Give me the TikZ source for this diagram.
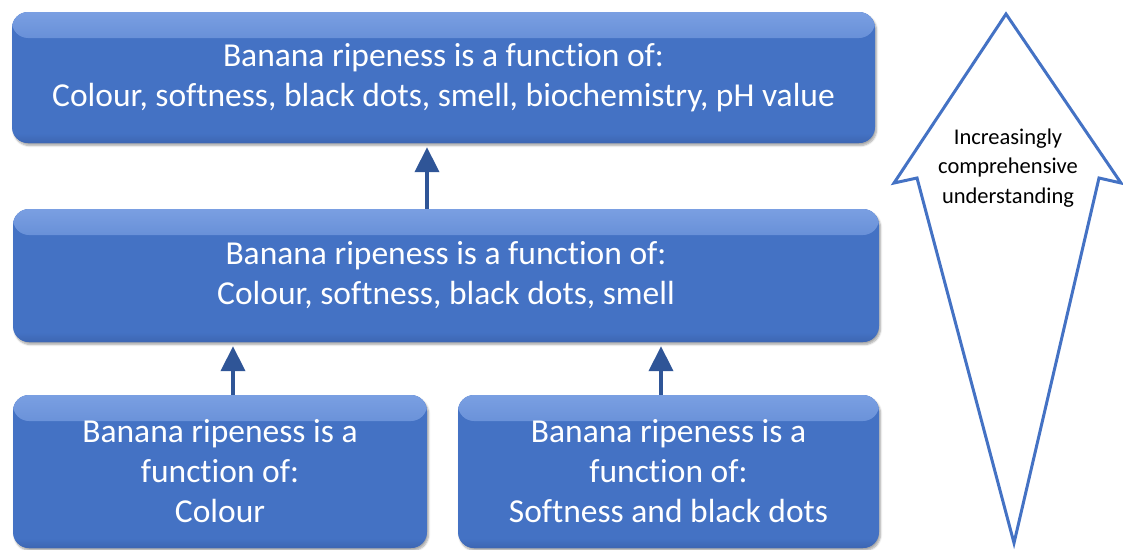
\documentclass[tikz,border=0pt]{standalone}
\usepackage{fontspec}
\setmainfont{Carlito}[Ligatures=NoCommon]
\usetikzlibrary{shadows.blur, arrows.meta}

\definecolor{boxblue}{HTML}{4472C4}
\definecolor{boxlight}{HTML}{7A9FE2}
\definecolor{boxdark}{HTML}{3D66B2}
\definecolor{linkblue}{HTML}{2F5597}

% soft highlight along the top edge of a card (path fills 25bp..75bp)
\pgfdeclareverticalshading{cardtop}{100bp}{%
  color(0bp)=(boxblue); color(25bp)=(boxblue); color(45bp)=(boxblue);
  color(75bp)=(boxlight); color(100bp)=(boxlight)}
% slight darkening along the bottom edge
\pgfdeclareverticalshading{cardbottom}{100bp}{%
  color(0bp)=(boxdark); color(25bp)=(boxdark); color(60bp)=(boxblue);
  color(100bp)=(boxblue)}

\begin{document}
\begin{tikzpicture}[x=1pt, y=-1pt,
  card/.style={
    rounded corners=16pt, fill=boxblue, draw=none, text=white,
    align=center, inner sep=0pt,
    font=\fontsize{33.5}{40}\selectfont,
    blur shadow={shadow xshift=1.5pt, shadow yshift=-2.5pt,
                 shadow blur steps=6, shadow opacity=35},
    path picture={
      \shade[shading=cardtop]
        (path picture bounding box.north west)
        rectangle ([yshift=-26pt]path picture bounding box.north east);
      \shade[shading=cardbottom]
        ([yshift=14pt]path picture bounding box.south west)
        rectangle (path picture bounding box.south east);
    }},
  link/.style={draw=linkblue, line width=4pt,
    -{Triangle[width=24pt, length=25pt]}, shorten >=4pt},
  outline/.style={draw=boxblue, line width=3pt, line join=miter},
  caption/.style={align=center, text=black,
    font=\fontsize{22.5}{29.5}\selectfont}
]
\useasboundingbox (0,0) rectangle (1123,549);

% levels of understanding
\node[card, minimum width=863pt, minimum height=131pt] (top) at (443.5,77.5)
  {Banana ripeness is a function of:\\Colour, softness, black dots, smell, biochemistry, pH value};
\node[card, minimum width=866pt, minimum height=133pt] (mid) at (446,275.5)
  {Banana ripeness is a function of:\\Colour, softness, black dots, smell};
\node[card, minimum width=414pt, minimum height=153pt] (bl) at (220,471.5)
  {Banana ripeness is a\\function of:\\Colour};
\node[card, minimum width=421pt, minimum height=153pt] (br) at (668.5,471.5)
  {Banana ripeness is a\\function of:\\Softness and black dots};

% links between levels
\draw[link] ([xshift=13pt]bl.north) -- ([xshift=13pt]bl.north |- mid.south);
\draw[link] ([xshift=-7.5pt]br.north) -- ([xshift=-7.5pt]br.north |- mid.south);
\draw[link] ([xshift=-19pt]mid.north) -- ([xshift=-19pt]mid.north |- top.south);

% double-headed outline arrow at the side
\draw[outline] (1006,14) -- (1121,183) -- (1099,178) -- (1014,543)
  -- (917,178) -- (894,183) -- cycle;
\node[caption] (scale) at (1008,168)
  {Increasingly\\comprehensive\\understanding};
\end{tikzpicture}
\end{document}
